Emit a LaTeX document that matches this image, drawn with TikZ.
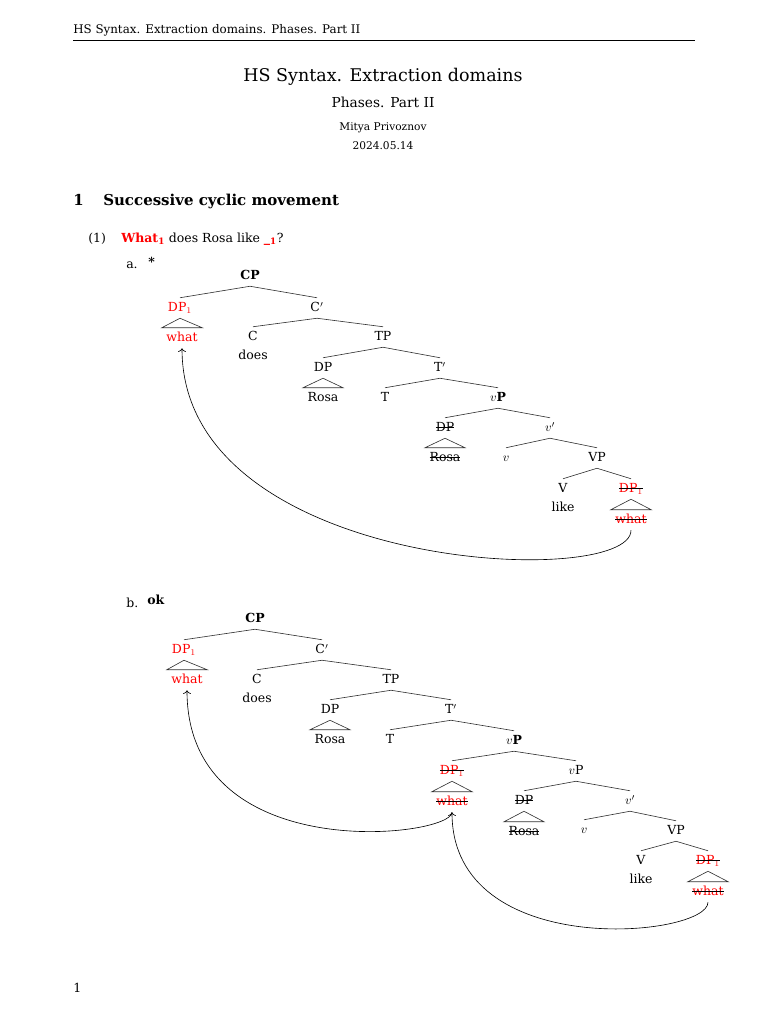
\documentclass[tikz,border=0pt]{standalone}
\usepackage{fontspec}
\setmainfont{DejaVu Serif}
\usepackage{tikz}
\usetikzlibrary{arrows.meta}

% struck-out copy, strike line in black
\newsavebox{\gonebox}
\newcommand{\gone}[1]{\sbox{\gonebox}{#1}\rlap{\usebox{\gonebox}}%
  \textcolor{black}{\rule[0.3em]{\wd\gonebox}{0.5pt}}}
\newcommand{\redgone}[1]{\gone{\textcolor{red}{#1}}}

\begin{document}
\begin{tikzpicture}[x=0.8pt, y=-0.8pt,
  lbl/.style={font=\fontsize{10}{12}\selectfont, inner xsep=3.5pt,
    inner ysep=2.5pt, text height=8.5pt, text depth=2.5pt},
  moved/.style={lbl, text=red},
  branch/.style={line width=0.5pt, black!80},
  roof/.style={line width=0.5pt, black!80},
  chain/.style={-{To[length=3pt]}, line width=0.5pt},
  plain/.style={font=\fontsize{10}{12}\selectfont, inner sep=0pt, anchor=base west},
  titleline/.style={inner sep=0pt, anchor=base}
]
  \useasboundingbox (0,0) rectangle (768,1024);

  % === Page head ===
  \node[plain, font=\fontsize{9.5}{11}\selectfont] (head) at (73,34)
    {HS Syntax. Extraction domains. Phases. Part II};
  \draw[line width=0.8pt] (73,41) -- (695,41);

  \node[titleline, font=\fontsize{14}{16}\selectfont] (title) at (383,82)
    {HS Syntax. Extraction domains};
  \node[titleline, font=\fontsize{11}{13}\selectfont] (subtitle) at (383,108)
    {Phases. Part II};
  \node[titleline, font=\fontsize{8.5}{10}\selectfont] (author) at (383,131)
    {Mitya Privoznov};
  \node[titleline, font=\fontsize{8.5}{10}\selectfont] (date) at (383,150)
    {2024.05.14};

  \node[plain, font=\fontsize{12}{14}\bfseries] (secnum) at (73,206) {1};
  \node[plain, font=\fontsize{12}{14}\bfseries] (sec) at (103,206)
    {Successive cyclic movement};

  % === Example (1) ===
  \node[plain] (exnum) at (88,242) {(1)};
  \node[plain] (ex) at (121,242)
    {\textcolor{red}{\textbf{What\textsubscript{1}}} does Rosa like
     \textcolor{red}{\textbf{\_\textsubscript{1}}}?};
  \node[plain] (a-mark) at (126,268) {a.};
  \node[plain] (a-star) at (148,266) {\textbf{*}};

  % === Tree (a): one long step ===
  \node[lbl] (a-cp)   at (250,276) {\textbf{CP}};
  \node[moved] (a-dp1) at (180,308) {DP$_1$};
  \node[moved] (a-what) at (182,338) {what};
  \node[lbl] (a-cbar) at (317,308) {C$'$};
  \node[lbl] (a-c)    at (253,337) {C};
  \node[lbl] (a-does) at (253,356) {does};
  \node[lbl] (a-tp)   at (383,337) {TP};
  \node[lbl] (a-dps)  at (323,368) {DP};
  \node[lbl] (a-rosa) at (323,398) {Rosa};
  \node[lbl] (a-tbar) at (440,368) {T$'$};
  \node[lbl] (a-t)    at (385,398) {T};
  \node[lbl] (a-vp)   at (498,398) {$v$\textbf{P}};
  \node[lbl] (a-dpo)  at (445,428) {\gone{DP}};
  \node[lbl] (a-rosao) at (445,458) {\gone{Rosa}};
  \node[lbl] (a-vbar) at (550,428) {$v'$};
  \node[lbl] (a-v)    at (506,458) {$v$};
  \node[lbl] (a-vvp)  at (597,458) {VP};
  \node[lbl] (a-vv)   at (563,489) {V};
  \node[lbl] (a-like) at (563,508) {like};
  \node[lbl] (a-dpt)  at (631,489) {\redgone{DP$_1$}};
  \node[lbl] (a-whatt) at (631,520) {\redgone{what}};

  % Branches
  \foreach \p/\c in {cp/dp1, cp/cbar, cbar/c, cbar/tp, tp/dps, tp/tbar,
      tbar/t, tbar/vp, vp/dpo, vp/vbar, vbar/v, vbar/vvp, vvp/vv, vvp/dpt}
    \draw[branch] (a-\p.south) -- (a-\c.north);

  % Roofs
  \foreach \p/\c in {dp1/what, dps/rosa, dpo/rosao, dpt/whatt}
    \draw[roof] (a-\p.south) -- (a-\c.north east) -- (a-\c.north west) -- cycle;

  % Movement
  \draw[chain] (a-whatt.south) .. controls +(0,60) and +(0,224) .. (a-what.south);

  % === Tree (b): through the edge of vP ===
  \node[plain] (b-mark) at (126,607) {b.};
  \node[plain] (b-ok)   at (147,604) {\textbf{ok}};

  \node[lbl] (b-cp)   at (255,619) {\textbf{CP}};
  \node[moved] (b-dp1) at (184,650) {DP$_1$};
  \node[moved] (b-what) at (187,680) {what};
  \node[lbl] (b-cbar) at (322,650) {C$'$};
  \node[lbl] (b-c)    at (257,680) {C};
  \node[lbl] (b-does) at (257,699) {does};
  \node[lbl] (b-tp)   at (391,680) {TP};
  \node[lbl] (b-dps)  at (330,710) {DP};
  \node[lbl] (b-rosa) at (330,740) {Rosa};
  \node[lbl] (b-tbar) at (451,710) {T$'$};
  \node[lbl] (b-t)    at (390,740) {T};
  \node[lbl] (b-vp)   at (514,741) {$v$\textbf{P}};
  \node[lbl] (b-dpm)  at (452,771) {\redgone{DP$_1$}};
  \node[lbl] (b-whatm) at (452,802) {\redgone{what}};
  \node[lbl] (b-vpl)  at (576,771) {$v$P};
  \node[lbl] (b-dpo)  at (524,801) {\gone{DP}};
  \node[lbl] (b-rosao) at (524,832) {\gone{Rosa}};
  \node[lbl] (b-vbar) at (630,801) {$v'$};
  \node[lbl] (b-v)    at (584,830) {$v$};
  \node[lbl] (b-vvp)  at (676,831) {VP};
  \node[lbl] (b-vv)   at (641,861) {V};
  \node[lbl] (b-like) at (641,880) {like};
  \node[lbl] (b-dpt)  at (708,861) {\redgone{DP$_1$}};
  \node[lbl] (b-whatt) at (708,892) {\redgone{what}};

  % Branches
  \foreach \p/\c in {cp/dp1, cp/cbar, cbar/c, cbar/tp, tp/dps, tp/tbar,
      tbar/t, tbar/vp, vp/dpm, vp/vpl, vpl/dpo, vpl/vbar, vbar/v, vbar/vvp,
      vvp/vv, vvp/dpt}
    \draw[branch] (b-\p.south) -- (b-\c.north);

  % Roofs
  \foreach \p/\c in {dp1/what, dps/rosa, dpm/whatm, dpo/rosao, dpt/whatt}
    \draw[roof] (b-\p.south) -- (b-\c.north east) -- (b-\c.north west) -- cycle;

  % Movement, two steps
  \draw[chain] (b-whatt.south) .. controls +(0,35) and +(0,150) .. (b-whatm.south);
  \draw[chain] (b-whatm.south) .. controls +(0,25) and +(0,178) .. (b-what.south);

  % Page number
  \node[plain] (pageno) at (73,992) {1};
\end{tikzpicture}
\end{document}
